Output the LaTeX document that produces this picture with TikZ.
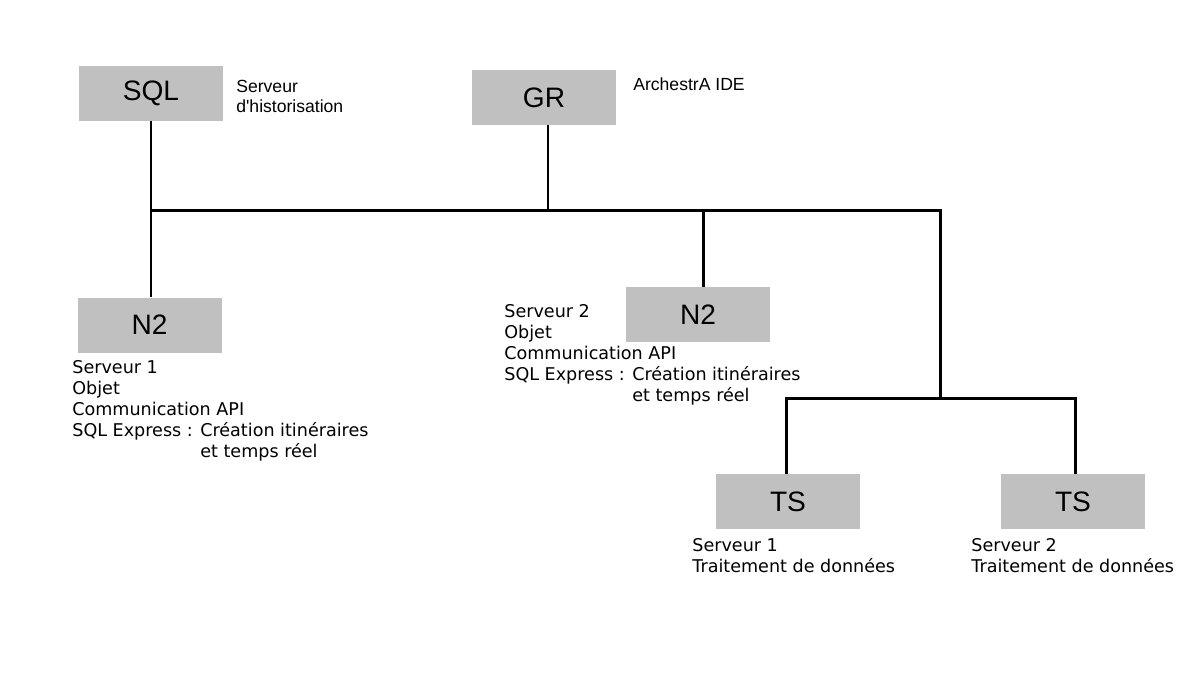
\documentclass[tikz,border=0pt]{standalone}
\usepackage{fontspec}
\newfontfamily\boxfont{Liberation Sans}
\newfontfamily\descfont{DejaVu Sans}
\definecolor{boxgray}{RGB}{192,192,192}

\begin{document}
\begin{tikzpicture}[main/.style = {fill=boxgray, minimum width=2.88cm, minimum height=1.1cm, inner sep=0pt, font=\boxfont\fontsize{16}{19}\selectfont},
                    desc/.style = {anchor=north west, inner sep=0pt, align=left, font=\descfont\fontsize{10}{11.9}\selectfont},
                    note/.style = {anchor=north west, inner sep=0pt, align=left, font=\boxfont\fontsize{10}{11.2}\selectfont},
                    wire/.style = {line width=1.7pt}]
                \useasboundingbox (0,0) rectangle (23.72,-13.64);

                % Nœuds
                \node[main] (sql) at (3.02,-1.87) {SQL};
                \node[main] (gr) at (10.88,-1.95) {GR};
                \node[main] (n2a) at (2.99,-6.5) {N2};
                \node[main] (n2b) at (13.96,-6.29) {N2};
                \node[main] (tsa) at (15.76,-10.03) {TS};
                \node[main] (tsb) at (21.46,-10.03) {TS};

                % Textes
                \node[note] (sqltxt) at (4.72,-1.6) {Serveur\\d'historisation};
                \node[note] (grtxt) at (12.66,-1.54) {ArchestrA IDE};
                \node[desc] (n2atxt) at (1.44,-7.21) {Serveur 1\\Objet\\Communication API\\SQL Express : Création itinéraires\\\hphantom{SQL Express : }et temps réel};
                \node[desc] (n2btxt) at (10.08,-6.09) {Serveur 2\\Objet\\Communication API\\SQL Express : Création itinéraires\\\hphantom{SQL Express : }et temps réel};
                \node[desc] (tsatxt) at (13.84,-10.77) {Serveur 1\\Traitement de données};
                \node[desc] (tsbtxt) at (19.42,-10.77) {Serveur 2\\Traitement de données};

                % Points du bus
                \coordinate (bsql) at (3.02,-4.2);
                \coordinate (bgr) at (10.96,-4.2);
                \coordinate (bn2) at (14.06,-4.2);
                \coordinate (bend) at (18.8,-4.2);
                \coordinate (bts) at (18.8,-7.96);
                \coordinate (btsa) at (15.72,-7.96);
                \coordinate (btsb) at (21.5,-7.96);

                % Liaisons
                \draw[wire] (sql.south) -- (bsql) -- (n2a.north -| bsql);
                \draw[wire] (bsql) -- (bend) -- (bts);
                \draw[wire] (gr.south -| bgr) -- (bgr);
                \draw[wire] (bn2) -- (n2b.north -| bn2);
                \draw[wire] (tsa.north -| btsa) -- (btsa) -- (btsb) -- (tsb.north -| btsb);
                \end{tikzpicture}
\end{document}
